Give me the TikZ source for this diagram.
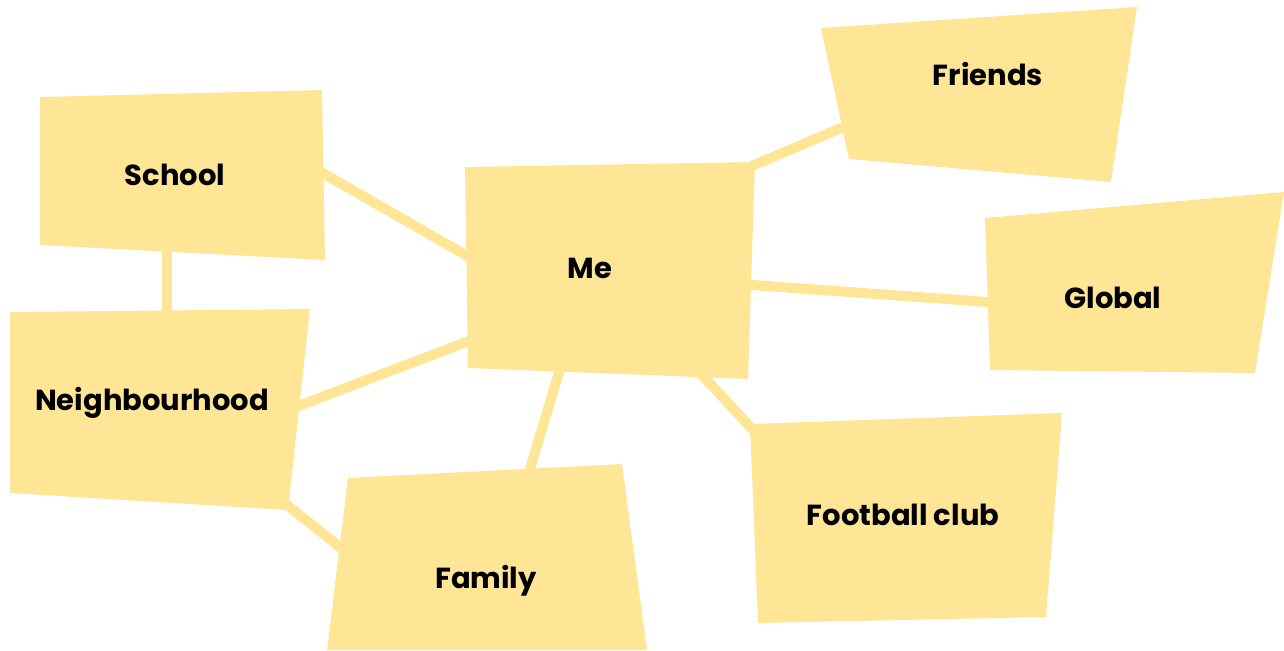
\documentclass[tikz,border=0pt]{standalone}
\usepackage{fontspec}
\setmainfont{Poppins}
\definecolor{boxfill}{RGB}{255,229,150}
\begin{document}
\begin{tikzpicture}[x=0.02cm,y=-0.02cm,
  link/.style={draw=boxfill,line width=0.2cm},
  card/.style={fill=boxfill},
  lbl/.style={anchor=base,inner sep=0pt,font=\fontsize{16.5}{20}\selectfont\bfseries,text=black}]
\useasboundingbox (0,0) rectangle (1284,650);
% connector ends
\coordinate (sA) at (300,160); \coordinate (mA) at (490,269);
\coordinate (sB) at (167,240); \coordinate (nB) at (167,330);
\coordinate (nC) at (280,413); \coordinate (mC) at (490,333);
\coordinate (nD) at (280,499.5); \coordinate (fD) at (350,555);
\coordinate (mE) at (565,352); \coordinate (fE) at (524,489);
\coordinate (mF) at (690,362); \coordinate (cF) at (766,444);
\coordinate (mG) at (740,171); \coordinate (rG) at (860,120);
\coordinate (mH) at (730,283.4); \coordinate (gH) at (1010,303.6);
% connectors
\draw[link] (sA) -- (mA);
\draw[link] (sB) -- (nB);
\draw[link] (nC) -- (mC);
\draw[link] (nD) -- (fD);
\draw[link] (mE) -- (fE);
\draw[link] (mF) -- (cF);
\draw[link] (mG) -- (rG);
\draw[link] (mH) -- (gH);
% cards
\fill[card] (40,97) -- (322,90) -- (325,260) -- (40,245) -- cycle;
\fill[card] (10,312) -- (310,309) -- (288,510) -- (10,493) -- cycle;
\fill[card] (465,167) -- (755,162) -- (748,379) -- (468,368) -- cycle;
\fill[card] (348,478) -- (622,464) -- (647,650) -- (327,650) -- cycle;
\fill[card] (750,424) -- (1062,413) -- (1046,617) -- (758,623) -- cycle;
\fill[card] (821,28) -- (1137,7) -- (1111,182) -- (849,159) -- cycle;
\fill[card] (985,218) -- (1284,192) -- (1255,373) -- (990,370) -- cycle;
% labels
\node[lbl] (school) at (175,185) {School};
\node[lbl] (neigh) at (152,410) {Neighbourhood};
\node[lbl] (me) at (590,278) {Me};
\node[lbl] (family) at (486,588) {Family};
\node[lbl] (club) at (903,525) {Football club};
\node[lbl] (friends) at (988,85) {Friends};
\node[lbl] (global) at (1113,308) {Global};
\end{tikzpicture}
\end{document}
